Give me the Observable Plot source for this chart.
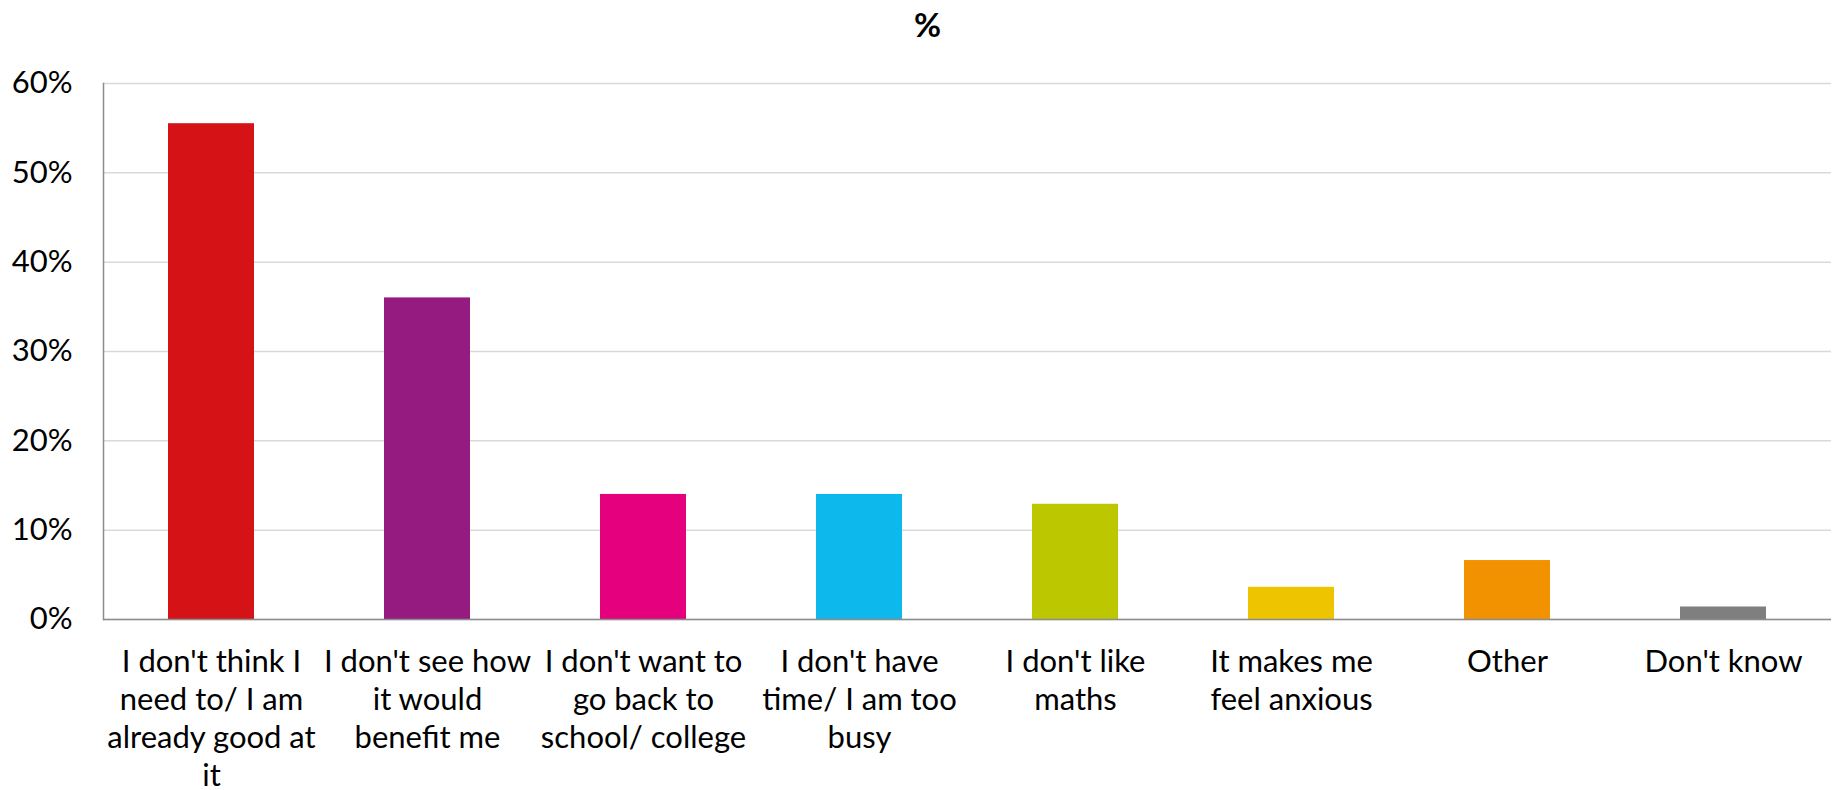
<!DOCTYPE html>
<html>
<head>
<meta charset="utf-8">
<script src="https://cdn.jsdelivr.net/npm/d3@7"></script>
<script src="https://cdn.jsdelivr.net/npm/@observablehq/plot@0.6"></script>
<style>
  html, body { margin: 0; padding: 0; background: white; }
</style>
</head>
<body>
<div id="chart"></div>
<script>
const categories = [
  "I don't think I need to/ I am already good at it",
  "I don't see how it would benefit me",
  "I don't want to go back to school/ college",
  "I don't have time/ I am too busy",
  "I don't like maths",
  "It makes me feel anxious",
  "Other",
  "Don't know"
];
const tickLabels = [
  "I don't think I\nneed to/ I am\nalready good at\nit",
  "I don't see how\nit would\nbenefit me",
  "I don't want to\ngo back to\nschool/ college",
  "I don't have\ntime/ I am too\nbusy",
  "I don't like\nmaths",
  "It makes me\nfeel anxious",
  "Other",
  "Don't know"
];
const values = [55.5, 36.0, 14.0, 14.0, 12.9, 3.6, 6.6, 1.4];
const colors = ["#D51317", "#951B81", "#E5007E", "#0DB8EC", "#BDC700", "#EEC300", "#F39200", "#7F7F7F"];
const yTicks = [0, 10, 20, 30, 40, 50, 60];
const title = "%";

const data = categories.map((c, i) => ({cat: c, value: values[i], color: colors[i]}));
const labelOf = new Map(categories.map((c, i) => [c, tickLabels[i]]));

const chart = Plot.plot({
  width: 1833,
  height: 790,
  marginTop: 83,
  marginBottom: 171,
  marginLeft: 103,
  marginRight: 2,
  style: {fontFamily: "Lato, 'Open Sans', sans-serif", color: "#000", background: "white"},
  x: {domain: categories, paddingInner: 0.6, paddingOuter: 0.3, label: null},
  y: {domain: [0, 60], label: null},
  color: {type: "identity"},
  marks: [
    Plot.gridY(yTicks, {stroke: "#d9d9d9", strokeOpacity: 1, strokeWidth: 1.5}),
    Plot.barY(data, {x: "cat", y: "value", fill: "color"}),
    Plot.ruleY([0], {stroke: "#8c8c8c", strokeWidth: 1.5}),
    Plot.frame({anchor: "left", stroke: "#8c8c8c", strokeWidth: 1.5}),
    Plot.axisY(yTicks, {tickSize: 0, tickPadding: 31, tickFormat: d => d + "%", fontSize: 31, label: null}),
    Plot.axisX({tickSize: 0, tickPadding: 25, fontSize: 31, lineHeight: 1.23, tickFormat: c => labelOf.get(c), label: null}),
    Plot.text([title], {frameAnchor: "top", dx: -40, dy: -70, fontWeight: "bold", fontSize: 33, fill: "#000"})
  ]
});
document.getElementById("chart").appendChild(chart);
</script>
</body>
</html>
